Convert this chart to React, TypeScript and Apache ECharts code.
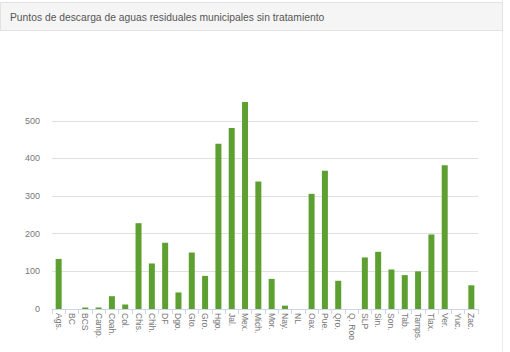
import React, { useEffect, useRef } from "react";
import * as echarts from "echarts";

const title = "Puntos de descarga de aguas residuales municipales sin tratamiento";
const categories = [
  "Ags.", "BC", "BCS", "Camp.", "Coah.", "Col.", "Chis.", "Chih.", "DF", "Dgo.",
  "Gto.", "Gro.", "Hgo.", "Jal.", "Mex.", "Mich.", "Mor.", "Nay.", "NL", "Oax.",
  "Pue.", "Qro.", "Q. Roo", "SLP", "Sin.", "Son.", "Tab.", "Tamps.", "Tlax.", "Ver.",
  "Yuc.", "Zac.",
];
const values = [
  133, 0, 4, 4, 34, 12, 228, 121, 176, 44,
  150, 88, 439, 481, 550, 339, 80, 9, 0, 306,
  367, 75, 0, 137, 152, 105, 90, 100, 198, 382,
  0, 63,
];

export default function App() {
  const ref = useRef<HTMLDivElement>(null);
  useEffect(() => {
    if (!ref.current) return;
    const chart = echarts.init(ref.current, null, { renderer: "svg" });
    chart.setOption({
      animation: false,
      backgroundColor: "#ffffff",
      graphic: [
        {
          type: "line",
          shape: { x1: 502.5, y1: 0, x2: 502.5, y2: 352 },
          style: { stroke: "#ececec", lineWidth: 1 },
          silent: true,
        },
        {
          type: "rect",
          shape: { x: 0.5, y: 2.5, width: 502, height: 28 },
          style: { fill: "#f5f5f5", stroke: "#e2e2e2", lineWidth: 1 },
          silent: true,
        },
        {
          type: "text",
          x: 10,
          y: 17,
          style: {
            text: title,
            fill: "#555555",
            fontSize: 10.3,
            fontFamily: "Liberation Sans, Arial, sans-serif",
            verticalAlign: "middle",
          },
          silent: true,
        },
      ],
      grid: { left: 52, right: 32, top: 102, bottom: 43, containLabel: false },
      xAxis: {
        type: "category",
        data: categories,
        axisLine: { lineStyle: { color: "#ccd6eb" } },
        axisTick: { show: true, length: 5, lineStyle: { color: "#ccd6eb" } },
        axisLabel: {
          rotate: -90,
          interval: 0,
          fontSize: 8.5,
          color: "#777777",
          margin: 4,
          fontFamily: "Liberation Sans, Arial, sans-serif",
        },
      },
      yAxis: {
        type: "value",
        min: 0,
        max: 550,
        interval: 100,
        axisLine: { show: false },
        axisTick: { show: false },
        axisLabel: {
          fontSize: 9,
          color: "#777777",
          margin: 12,
          showMaxLabel: false,
          fontFamily: "Liberation Sans, Arial, sans-serif",
        },
        splitLine: { showMaxLine: false, lineStyle: { color: "#e0e0e0" } },
      },
      series: [
        {
          type: "bar",
          data: values,
          barWidth: 6,
          itemStyle: { color: "#5e9f31" },
        },
      ],
    });
    return () => chart.dispose();
  }, []);
  return (
    <div
      ref={ref}
      style={{ position: "absolute", left: 0, top: 0, width: 510, height: 352 }}
    />
  );
}
